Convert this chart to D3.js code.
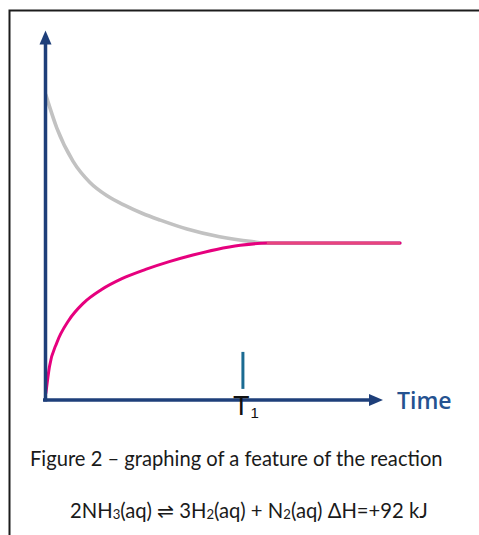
<!DOCTYPE html>
<html>
<head>
<meta charset="utf-8">
<script src="https://cdn.jsdelivr.net/npm/d3@7"></script>
<style>
  html, body { margin: 0; padding: 0; background: #fff; }
  svg { display: block; }
</style>
</head>
<body>
<svg id="chart" width="479" height="535"></svg>
<script>
// ---- Data (time in arbitrary units, concentration in arbitrary units) ----
const reactantTime = [0.03, 0.4, 0.95, 1.52, 2.1, 2.7, 3.3, 3.9, 4.8, 5.9, 7.0, 7.5, 12];
const reactantConc = [8.24, 7.35, 6.45, 5.88, 5.52, 5.26, 5.04, 4.86, 4.62, 4.41, 4.28, 4.24, 4.24];
const productTime  = [0.03, 0.15, 0.4, 0.8, 1.3, 1.9, 2.6, 3.4, 4.2, 5.0, 5.8, 6.6, 7.5, 12];
const productConc  = [0.19, 0.9, 1.55, 2.15, 2.62, 2.98, 3.28, 3.53, 3.74, 3.92, 4.07, 4.18, 4.24, 4.24];
const markerTime = [6.69];
const markerSpan = [0.3, 1.3];
const axisLabel = "Time";
const markerLabel = ["T", "1"];
const caption = "Figure 2 \u2013 graphing of a feature of the reaction";

const svg = d3.select("#chart");

// frame
svg.append("path")
  .attr("d", "M9.5,535 V10.5 H479")
  .attr("fill", "none").attr("stroke", "#1c1c1c").attr("stroke-width", 2);

const x = d3.scaleLinear().domain([0, 12]).range([45, 400]);
const y = d3.scaleLinear().domain([0, 10]).range([400, 30]);

const axisColor = "#1e3f7a";
const defs = svg.append("defs");
defs.append("marker")
  .attr("id", "arrow").attr("markerUnits", "userSpaceOnUse")
  .attr("viewBox", "0 -7 15 14").attr("markerWidth", 15).attr("markerHeight", 14)
  .attr("refX", 1).attr("refY", 0).attr("orient", "auto")
  .append("path").attr("d", "M0,-6L14,0L0,6Z").attr("fill", axisColor);

// curves
const line = d3.line().x(d => x(d[0])).y(d => y(d[1])).curve(d3.curveMonotoneX);
const reactant = reactantTime.map((t, i) => [t, reactantConc[i]]);
const product = productTime.map((t, i) => [t, productConc[i]]);

svg.append("path").datum(reactant).attr("d", line)
  .attr("fill", "none").attr("stroke", "#c2c2c2").attr("stroke-width", 3.6)
  .attr("stroke-linecap", "round");
svg.append("path").datum(product).attr("d", line)
  .attr("fill", "none").attr("stroke", "#e6007e").attr("stroke-width", 3)
  .attr("stroke-linecap", "round");
// equilibrium overlay tint
svg.append("path").datum(product.slice(-2)).attr("d", line)
  .attr("fill", "none").attr("stroke", "#e9457c").attr("stroke-width", 2.4);

// axes (no ticks), with arrowheads
const xAxis = d3.axisBottom(x.copy().range([45, 370])).tickValues([]).tickSizeOuter(0);
const yAxis = d3.axisLeft(y.copy().range([401, 43])).tickValues([]).tickSizeOuter(0);
const gx = svg.append("g").attr("transform", `translate(0,${y(0)})`).call(xAxis);
const gy = svg.append("g").attr("transform", `translate(${x(0)},0)`).call(yAxis);
[gx, gy].forEach(g => g.select(".domain")
  .attr("stroke", axisColor).attr("stroke-width", 3.5)
  .attr("marker-end", "url(#arrow)"));
gx.select(".domain").attr("d", "M43,0H370");

svg.append("text").text(axisLabel)
  .attr("x", 397).attr("y", 409)
  .attr("font-family", "Open Sans, sans-serif").attr("font-size", 23)
  .attr("font-weight", 600).attr("fill", "#255290");

// T1 marker
svg.selectAll(".mk").data(markerTime).enter().append("line")
  .attr("x1", d => x(d)).attr("x2", d => x(d))
  .attr("y1", y(markerSpan[0])).attr("y2", y(markerSpan[1]))
  .attr("stroke", "#1b6b92").attr("stroke-width", 3);
const tl = svg.append("text").attr("x", x(markerTime[0]) + 3).attr("y", 415)
  .attr("text-anchor", "middle").attr("fill", "#111")
  .attr("font-family", "Liberation Sans, Arial, sans-serif");
tl.append("tspan").attr("font-size", 27).text(markerLabel[0]);
tl.append("tspan").attr("font-size", 15).attr("dy", 3).attr("dx", 1).text(markerLabel[1]);

// caption
function fitText(sel, target) {
  const w = sel.node().getComputedTextLength();
  const fs = +sel.attr("font-size");
  sel.attr("font-size", fs * target / w);
}
const cap = svg.append("text").text(caption)
  .attr("x", 30).attr("y", 466)
  .attr("font-family", "Lato, sans-serif").attr("font-size", 18).attr("fill", "#1a1a1a");
fitText(cap, 413);

// equation
const eq = svg.append("text").attr("x", 70).attr("y", 518)
  .attr("font-family", "Lato, DejaVu Sans, sans-serif").attr("font-size", 17).attr("fill", "#1a1a1a");
const eqParts = [["2NH", 0], ["3", 1], ["(aq) \u21CC 3H", 0], ["2", 1], ["(aq) + N", 0], ["2", 1], ["(aq) \u0394H=+92 kJ", 0]];
eqParts.forEach(p => {
  eq.append("tspan").text(p[0]).attr("font-size", p[1] ? "0.65em" : null).attr("dy", p[1] ? 1 : 0);
});
eq.selectAll("tspan").each(function(d, i) {
  const prevSub = i > 0 && eqParts[i - 1][1];
  if (!eqParts[i][1] && prevSub) d3.select(this).attr("dy", -1);
});
fitText(eq, 358);
</script>
</body>
</html>
